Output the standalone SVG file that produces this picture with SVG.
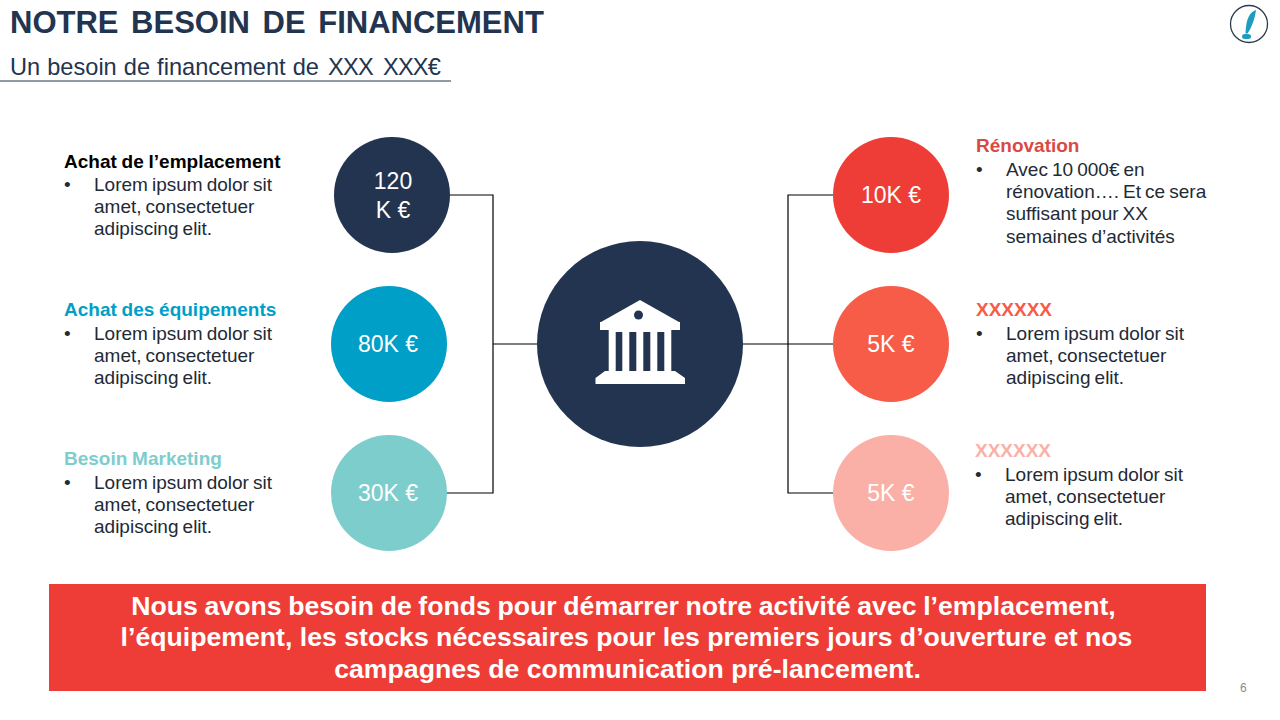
<svg xmlns="http://www.w3.org/2000/svg" width="1280" height="720" viewBox="0 0 1280 720">
<style>
text{font-family:"Liberation Sans",Arial,sans-serif}
.b{font-size:19px;fill:#222a35;word-spacing:-1.2px}
.h{font-size:19px;font-weight:bold;word-spacing:-.5px}
.v{font-size:23px;fill:#fff;text-anchor:middle}
.c{fill:none;stroke:#000;stroke-width:1.2}
.m{font-size:26.67px;font-weight:bold;fill:#fff;text-anchor:middle}
</style>
<rect width="1280" height="720" fill="#fff"/>
<g id="header">
<text x="10" y="33" font-size="31" font-weight="bold" fill="#22344f" word-spacing="4">NOTRE BESOIN DE FINANCEMENT</text>
<text x="10" y="75" font-size="23.600" fill="#22344f" word-spacing=".5">Un besoin de financement de <tspan x="328" letter-spacing="-.7">XXX</tspan> <tspan x="383" letter-spacing="-.8">XXX€</tspan></text>
<line x1="0" y1="81" x2="451" y2="81" stroke="#22344f" stroke-width="1.2"/>
</g>
<g id="logo">
<circle cx="1249" cy="24" r="18.500" fill="#fff" stroke="#2b3a4d" stroke-width="1.3"/>
<path d="M1256 10C1250 12 1246 18 1245.500 33.500L1247.500 33.500C1252 27 1255 18 1256 10Z" fill="#1b9cc0"/>
<path d="M1242 36.500Q1242 34 1245 34H1248Q1251 34 1251 36.500Q1251 39 1248 39H1245Q1242 39 1242 36.500Z" fill="#1b9cc0"/>
</g>
<g id="connectors">
<path class="c" d="M446 195H493V493H446M493 344H537"/>
<path class="c" d="M833 195H788V493H833M743 344H833"/>
</g>
<g id="center">
<circle cx="640" cy="344" r="103" fill="#22344f"/>
<path fill="#fff" d="M640 300L679 322H680V330H671.300V371H675L685 378V384H595.500V378L605 371H608.700V330H600V322H601Z"/>
<path fill="#22344f" d="M615.700 332H622.300V371H615.700ZM629.300 332H636.300V371H629.300ZM643.300 332H650.300V371H643.300ZM657.300 332H664.300V371H657.300Z"/>
<circle cx="638.500" cy="315" r="4.500" fill="#22344f"/>
</g>
<g id="node-120k">
<circle cx="392" cy="195" r="58" fill="#22344f"/>
<text class="v" x="393" y="189">120</text><text class="v" x="393" y="218">K €</text>
</g>
<g id="node-80k">
<circle cx="389" cy="344" r="58" fill="#009fc7"/>
<text class="v" x="388" y="352">80K €</text>
</g>
<g id="node-30k">
<circle cx="389" cy="493" r="58" fill="#7ecdcd"/>
<text class="v" x="388" y="501">30K €</text>
</g>
<g id="node-10k">
<circle cx="891" cy="195" r="58" fill="#ee3d36"/>
<text class="v" x="891" y="203">10K €</text>
</g>
<g id="node-5k-a">
<circle cx="891" cy="344" r="58" fill="#f65c47"/>
<text class="v" x="891" y="352">5K €</text>
</g>
<g id="node-5k-b">
<circle cx="891" cy="493" r="58" fill="#fbb0a7"/>
<text class="v" x="891" y="501">5K €</text>
</g>
<g id="text-emplacement">
<text class="h" x="64" y="168" fill="#000">Achat de l’emplacement</text>
<text class="b" x="64" y="191">•</text><text class="b" x="94" y="191">Lorem ipsum dolor sit</text>
<text class="b" x="94" y="213">amet, consectetuer</text>
<text class="b" x="94" y="235">adipiscing elit.</text>
</g>
<g id="text-equipements">
<text class="h" x="64" y="316" fill="#009fc7">Achat des équipements</text>
<text class="b" x="64" y="340">•</text><text class="b" x="94" y="340">Lorem ipsum dolor sit</text>
<text class="b" x="94" y="362">amet, consectetuer</text>
<text class="b" x="94" y="384">adipiscing elit.</text>
</g>
<g id="text-marketing">
<text class="h" x="64" y="465" fill="#7ecdcd">Besoin Marketing</text>
<text class="b" x="64" y="489">•</text><text class="b" x="94" y="489">Lorem ipsum dolor sit</text>
<text class="b" x="94" y="511">amet, consectetuer</text>
<text class="b" x="94" y="533">adipiscing elit.</text>
</g>
<g id="text-renovation">
<text class="h" x="976" y="152" fill="#d94a45">Rénovation</text>
<text class="b" x="976" y="176">•</text><text class="b" x="1006" y="176">Avec 10 000€ en</text>
<text class="b" x="1006" y="198">rénovation…. Et ce sera</text>
<text class="b" x="1006" y="220">suffisant pour XX</text>
<text class="b" x="1006" y="243">semaines d’activités</text>
</g>
<g id="text-xxxxxx-a">
<text class="h" x="976" y="316" fill="#f65c47">XXXXXX</text>
<text class="b" x="976" y="340">•</text><text class="b" x="1006" y="340">Lorem ipsum dolor sit</text>
<text class="b" x="1006" y="362">amet, consectetuer</text>
<text class="b" x="1006" y="384">adipiscing elit.</text>
</g>
<g id="text-xxxxxx-b">
<text class="h" x="975" y="457" fill="#fbb0a7">XXXXXX</text>
<text class="b" x="975" y="481">•</text><text class="b" x="1005" y="481">Lorem ipsum dolor sit</text>
<text class="b" x="1005" y="503">amet, consectetuer</text>
<text class="b" x="1005" y="525">adipiscing elit.</text>
</g>
<g id="banner">
<rect x="49" y="584" width="1157" height="107" fill="#ee3d36"/>
<text class="m" x="623.500" y="615" word-spacing="-.8">Nous avons besoin de fonds pour démarrer notre activité avec l’emplacement,</text>
<text class="m" x="626.500" y="646">l’équipement, les stocks nécessaires pour les premiers jours d’ouverture et nos</text>
<text class="m" x="627.500" y="678">campagnes de communication pré-lancement.</text>
</g>
<text id="page" x="1240" y="692" font-size="12" fill="#8a8a8a">6</text>
</svg>
